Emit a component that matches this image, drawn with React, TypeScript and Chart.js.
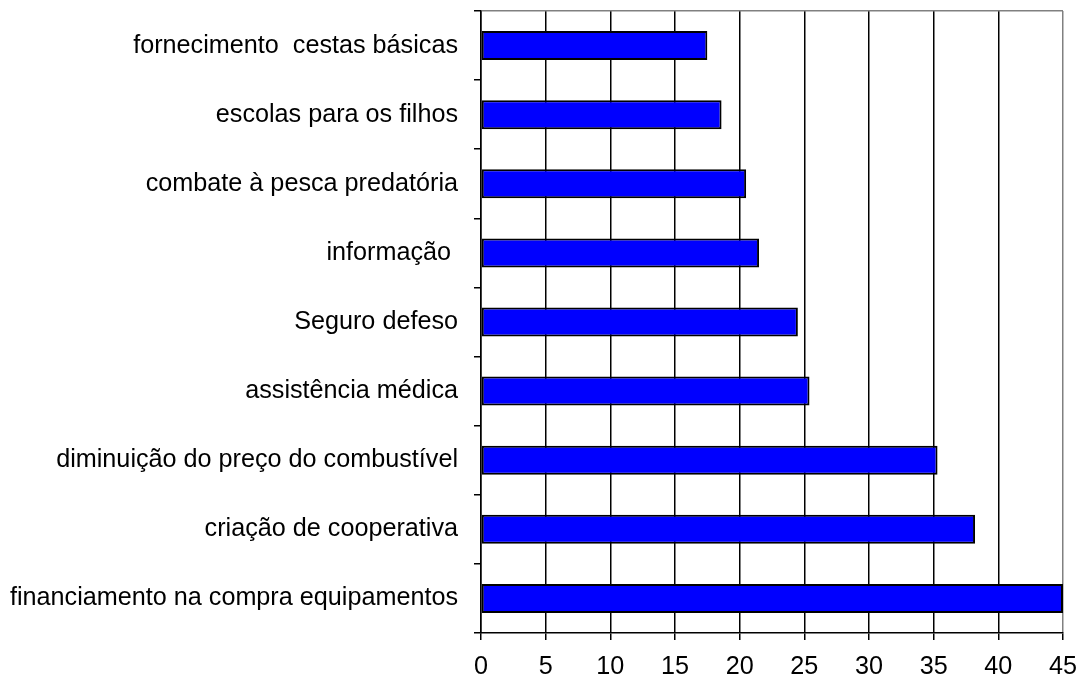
import React, { useEffect, useRef } from "react";
import { Chart, registerables } from "chart.js";

Chart.register(...registerables);

const categories: string[] = [
  "fornecimento  cestas básicas",
  "escolas para os filhos",
  "combate à pesca predatória",
  "informação ",
  "Seguro defeso",
  "assistência médica",
  "diminuição do preço do combustível",
  "criação de cooperativa",
  "financiamento na compra equipamentos",
];

const values: number[] = [17.5, 18.6, 20.5, 21.5, 24.5, 25.4, 35.3, 38.2, 45];

const xMin = 0;
const xMax = 45;
const xStep = 5;

const FONT = "'Liberation Sans', Arial, sans-serif";

export default function App() {
  const canvasRef = useRef<HTMLCanvasElement | null>(null);

  useEffect(() => {
    const canvas = canvasRef.current;
    if (!canvas) return;
    const chart = new Chart(canvas, {
      type: "bar",
      data: {
        labels: categories,
        datasets: [
          {
            data: values,
            backgroundColor: "#0000FF",
            borderColor: "#000000",
            borderWidth: 2,
            borderSkipped: false,
            categoryPercentage: 1,
            barPercentage: 0.42,
          },
        ],
      },
      options: {
        indexAxis: "y",
        animation: false,
        responsive: true,
        maintainAspectRatio: false,
        layout: { padding: { left: 0, right: 18, top: 11, bottom: 0 } },
        plugins: {
          legend: { display: false },
          title: { display: false },
          tooltip: { enabled: false },
        },
        scales: {
          x: {
            type: "linear",
            position: "bottom",
            min: xMin,
            max: xMax,
            ticks: {
              stepSize: xStep,
              color: "#000",
              font: { family: FONT, size: 25.2 },
              padding: 12,
            },
            grid: {
              color: (ctx: any) =>
                ctx.tick && ctx.tick.value === xMax ? "#808080" : "#000",
              lineWidth: 1.5,
              tickLength: 7,
              tickColor: "#000",
            },
            border: { color: "#000", width: 1.5 },
            afterFit: (scale: any) => {
              scale.height = 51;
              scale.paddingLeft = 0;
              scale.paddingRight = 0;
            },
          },
          y: {
            type: "category",
            position: "left",
            offset: true,
            ticks: {
              color: "#000",
              font: { family: FONT, size: 25.2 },
              padding: 16,
              autoSkip: false,
            },
            grid: {
              offset: true,
              drawOnChartArea: true,
              color: (ctx: any) => (ctx.index === 0 ? "#808080" : "rgba(0,0,0,0)"),
              tickColor: "#000",
              tickLength: 7,
              lineWidth: 1.5,
            },
            border: { color: "#000", width: 1.5 },
            afterFit: (scale: any) => {
              scale.width = 481;
              scale.paddingTop = 0;
              scale.paddingBottom = 0;
            },
          },
        },
      },
    });
    return () => chart.destroy();
  }, []);

  return (
    <div
      style={{
        position: "absolute",
        left: 0,
        top: 0,
        width: 1081,
        height: 684,
        background: "#fff",
      }}
    >
      <canvas ref={canvasRef} />
    </div>
  );
}
